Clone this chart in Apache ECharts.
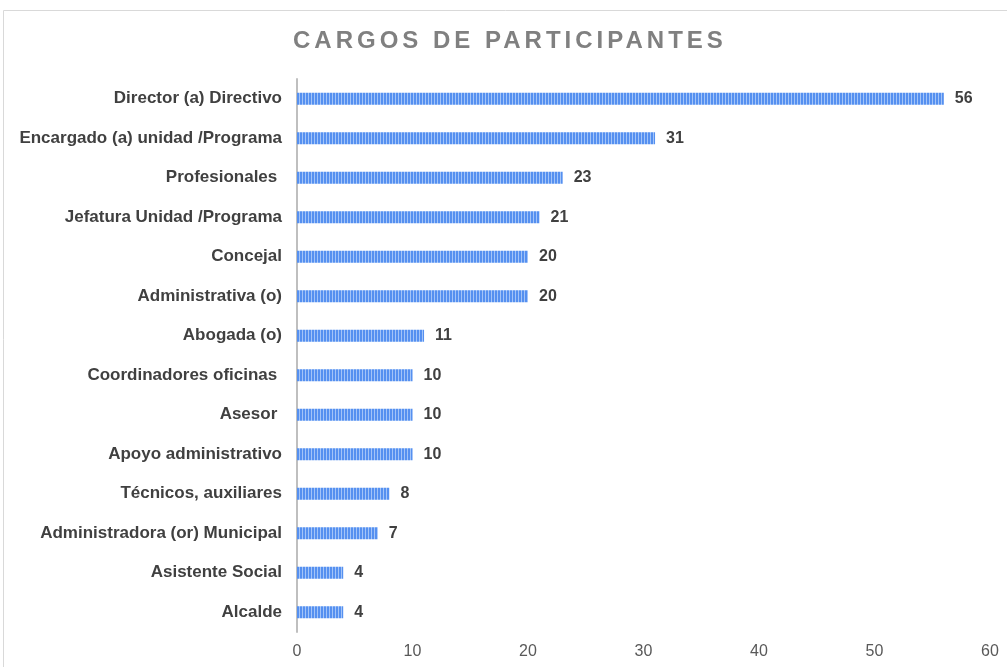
<!DOCTYPE html>
<html>
<head>
<meta charset="utf-8">
<script src="https://cdn.jsdelivr.net/npm/echarts@6/dist/echarts.min.js"></script>
<style>
  html, body { margin: 0; padding: 0; background: #fff; }
  #chart { width: 1007px; height: 667px; }
</style>
</head>
<body>
<div id="chart"></div>
<script>
// data, top to bottom as in the picture
const titulo = 'CARGOS DE PARTICIPANTES'
const cargos = [
  'Director (a) Directivo',
  'Encargado (a) unidad /Programa',
  'Profesionales ',
  'Jefatura Unidad /Programa',
  'Concejal',
  'Administrativa (o)',
  'Abogada (o)',
  'Coordinadores oficinas ',
  'Asesor ',
  'Apoyo administrativo',
  'Técnicos, auxiliares',
  'Administradora (or) Municipal',
  'Asistente Social',
  'Alcalde'
]
const participantes = [56, 31, 23, 21, 20, 20, 11, 10, 10, 10, 8, 7, 4, 4]
const xTicks = [0, 10, 20, 30, 40, 50, 60]

// the title in the original is letter-spaced; zrender has no option for it,
// so widen it at draw time
const fillText = CanvasRenderingContext2D.prototype.fillText
CanvasRenderingContext2D.prototype.fillText = function (t, x, y, w) {
  if (t === titulo && 'letterSpacing' in this) {
    const old = this.letterSpacing
    this.letterSpacing = '4px'
    fillText.call(this, t, x, y)
    this.letterSpacing = old
    return
  }
  return fillText.apply(this, arguments)
}

// striped fill like the original bars
function stripes () {
  const c = document.createElement('canvas')
  c.width = 3
  c.height = 4
  const ctx = c.getContext('2d')
  ctx.fillStyle = '#5590f0'
  ctx.fillRect(0, 0, 3, 4)
  ctx.fillStyle = '#a3c4f8'
  ctx.fillRect(2, 0, 1, 4)
  return c
}

const chart = echarts.init(document.getElementById('chart'))
chart.setOption({
  animation: false,
  title: {
    text: titulo,
    left: 288,
    top: 24,
    textStyle: {
      color: '#808080',
      fontFamily: 'Liberation Sans',
      fontWeight: 'bold',
      fontSize: 24
    }
  },
  graphic: [{
    type: 'rect',
    shape: { x: 3.5, y: 10.5, width: 1020, height: 700 },
    style: { fill: 'none', stroke: '#d9d9d9', lineWidth: 1 },
    silent: true
  }],
  grid: {
    left: 297,
    right: 17,
    top: 79,
    bottom: 35,
    containLabel: false
  },
  xAxis: {
    type: 'value',
    min: xTicks[0],
    max: xTicks[xTicks.length - 1],
    interval: 10,
    splitLine: { show: false },
    axisLine: { show: false },
    axisTick: { show: false },
    axisLabel: {
      color: '#595959',
      fontFamily: 'Liberation Sans',
      fontSize: 16,
      margin: 12
    }
  },
  yAxis: {
    type: 'category',
    inverse: true,
    data: cargos,
    axisLine: { show: true, lineStyle: { color: '#bfbfbf', width: 2 } },
    axisTick: { show: false },
    axisLabel: {
      color: '#404040',
      fontFamily: 'Liberation Sans',
      fontWeight: 'bold',
      fontSize: 17,
      margin: 15
    }
  },
  series: [{
    type: 'bar',
    data: participantes,
    barWidth: 12,
    itemStyle: {
      color: { image: stripes(), repeat: 'repeat' }
    },
    label: {
      show: true,
      position: 'right',
      distance: 11,
      color: '#404040',
      fontFamily: 'Liberation Sans',
      fontWeight: 'bold',
      fontSize: 16
    }
  }]
})
</script>
</body>
</html>
